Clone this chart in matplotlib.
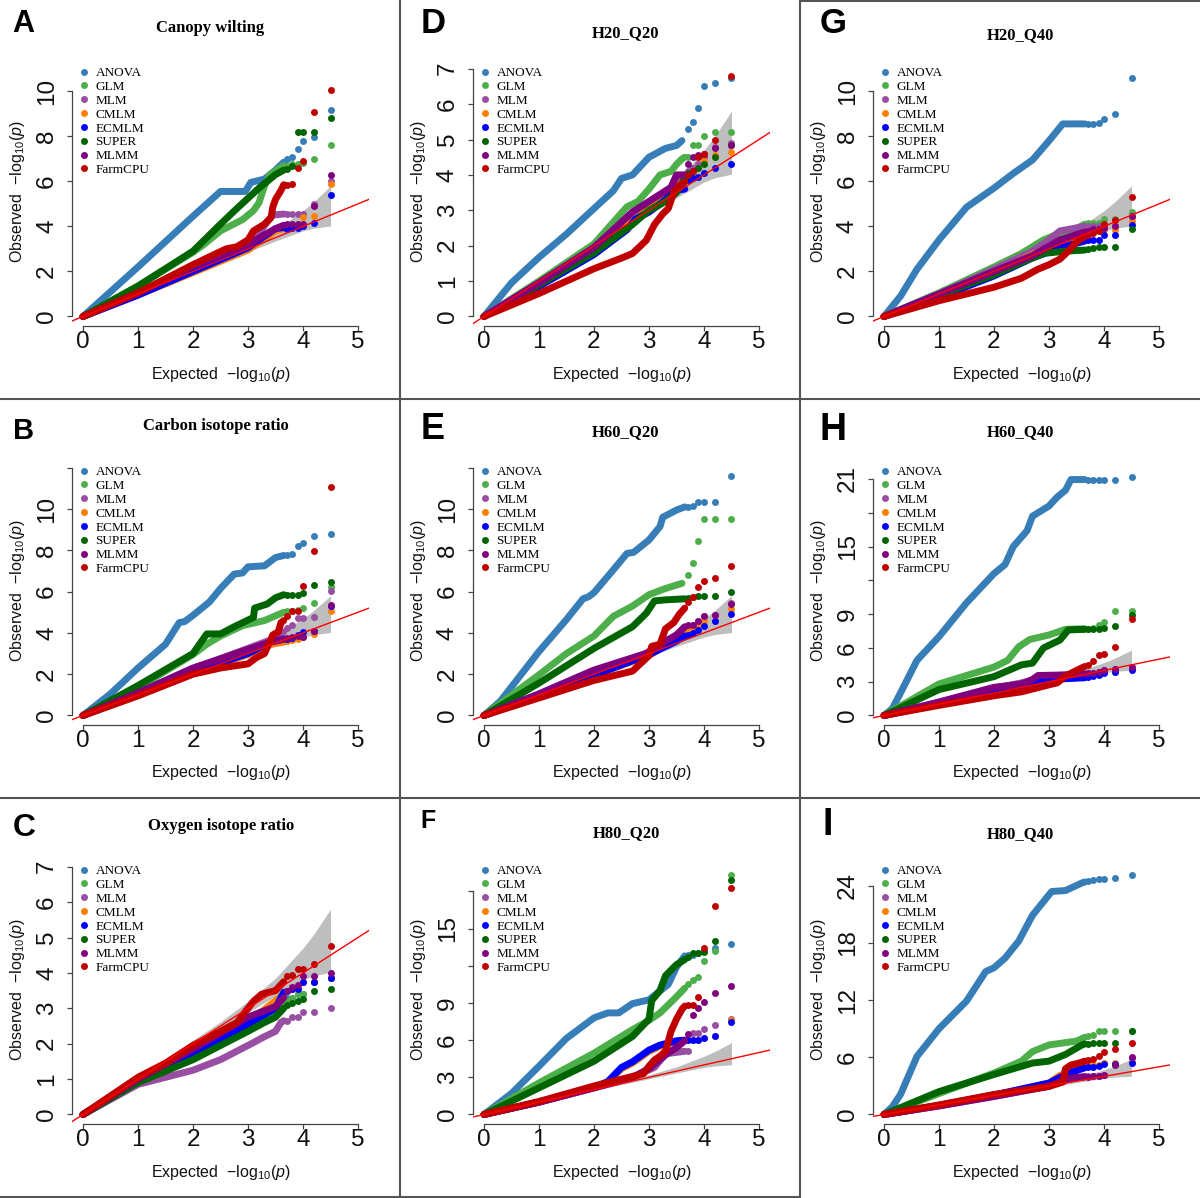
import matplotlib
matplotlib.use("Agg")
import matplotlib.pyplot as plt
from matplotlib.lines import Line2D

plt.rcParams["font.family"] = "Liberation Sans"
plt.rcParams["mathtext.fontset"] = "custom"
plt.rcParams["mathtext.rm"] = "Liberation Sans"
plt.rcParams["mathtext.it"] = "Liberation Sans:italic"

# ── 配置 ──
METHODS = ["ANOVA", "GLM", "MLM", "CMLM", "ECMLM", "SUPER", "MLMM", "FarmCPU"]
COLORS = ["#377EB8", "#4DAF4A", "#984EA3", "#FF7F00", "#0000FF",
          "#006400", "#800080", "#C00000"]

# expected -log10(p) of the last, separated points
TAIL_X = [3.7, 3.8, 3.9, 4.0, 4.2, 4.5]

# grey confidence band
BAND_X = [0.0, 2.0, 2.5, 3.0, 3.5, 4.0, 4.2, 4.5]
BAND_LO = [0.0, 1.92, 2.42, 2.88, 3.35, 3.8, 3.92, 4.02]
BAND_HI = [0.0, 2.1, 2.62, 3.2, 3.85, 4.7, 5.1, 5.8]

LETTERS = ["A", "B", "C", "D", "E", "F", "G", "H", "I"]
TITLES = ["Canopy wilting", "Carbon isotope ratio", "Oxygen isotope ratio",
          "H20_Q20", "H60_Q20", "H80_Q20", "H20_Q40", "H60_Q40", "H80_Q40"]
YMAX = [11, 12, 7, 7, 12, 20, 11, 22, 26]
YTICKS = [[0, 2, 4, 6, 8, 10], [0, 2, 4, 6, 8, 10, 12], [0, 1, 2, 3, 4, 5, 6, 7],
          [0, 1, 2, 3, 4, 5, 6, 7], [0, 2, 4, 6, 8, 10, 12],
          [0, 3, 6, 9, 12, 15, 18], [0, 2, 4, 6, 8, 10],
          [0, 3, 6, 9, 12, 15, 18, 21], [0, 6, 12, 18, 24]]
YLABELS = [["0", "2", "4", "6", "8", "10"], ["0", "2", "4", "6", "8", "10", ""],
           ["0", "1", "2", "3", "4", "5", "6", "7"], ["0", "1", "2", "3", "4", "5", "6", "7"],
           ["0", "2", "4", "6", "8", "10", ""], ["0", "3", "6", "9", "", "15", ""],
           ["0", "2", "4", "6", "8", "10"], ["0", "3", "6", "9", "", "15", "", "21"],
           ["0", "6", "12", "18", "24"]]

# ── 数据: 曲线节点 (x, y) 与尾部散点 y ──
A_CURVE = {
    "ANOVA": ([0, 1, 2, 2.5, 2.95, 3.05, 3.3, 3.5, 3.65], [0, 2.2, 4.45, 5.55, 5.55, 5.95, 6.1, 6.5, 6.85]),
    "GLM": ([0, 1, 2, 2.2, 2.5, 2.9, 3.1, 3.2, 3.3, 3.4, 3.65], [0, 1.35, 2.85, 3.2, 3.8, 4.3, 4.7, 5.05, 5.8, 6.3, 6.7]),
    "MLM": ([0, 1, 2, 2.8, 3.2, 3.35, 3.45, 3.65], [0, 1.05, 2.2, 3.05, 3.7, 4.2, 4.5, 4.55]),
    "CMLM": ([0, 1, 2, 3, 3.5, 3.65], [0, 0.95, 1.95, 2.95, 3.8, 3.9]),
    "ECMLM": ([0, 1, 2, 3, 3.2, 3.5, 3.65], [0, 0.95, 2.0, 3.05, 3.4, 3.9, 3.95]),
    "SUPER": ([0, 1, 2, 2.5, 2.8, 3.0, 3.2, 3.5, 3.65], [0, 1.35, 2.9, 4.1, 4.8, 5.25, 5.7, 6.3, 6.5]),
    "MLMM": ([0, 1, 2, 3, 3.5, 3.65], [0, 1.05, 2.25, 3.2, 3.9, 4.05]),
    "FarmCPU": ([0, 1, 2, 2.6, 2.8, 3.0, 3.1, 3.3, 3.42, 3.45, 3.5, 3.6, 3.65],
                [0, 1.05, 2.3, 3.0, 3.1, 3.4, 3.8, 4.1, 4.4, 4.85, 5.2, 5.6, 5.85]),
}
A_TAIL = {
    "ANOVA": [7.0, 7.1, 7.45, 7.8, 7.97, 9.15], "GLM": [6.7, 6.75, 6.75, 6.8, 7.0, 7.6],
    "MLM": [4.55, 4.55, 4.55, 4.55, 5.0, 6.0], "CMLM": [3.95, 4.0, 4.0, 4.4, 4.45, 5.9],
    "ECMLM": [3.9, 3.95, 3.95, 4.0, 4.15, 5.4], "SUPER": [6.55, 6.7, 8.2, 8.2, 8.2, 8.8],
    "MLMM": [4.1, 4.1, 4.1, 4.1, 4.9, 6.3], "FarmCPU": [5.85, 5.9, 6.6, 6.9, 9.1, 10.05],
}

B_CURVE = {
    "ANOVA": ([0, 0.5, 1, 1.5, 1.75, 1.85, 2.0, 2.3, 2.5, 2.75, 2.9, 3.0, 3.3, 3.5, 3.65],
              [0, 1.05, 2.3, 3.45, 4.5, 4.55, 4.85, 5.5, 6.15, 6.85, 6.9, 7.2, 7.25, 7.65, 7.75]),
    "GLM": ([0, 1, 2, 2.25, 2.5, 2.9, 3.3, 3.65], [0, 1.35, 2.95, 3.45, 3.85, 4.35, 4.6, 5.0]),
    "MLM": ([0, 1, 2, 3, 3.4, 3.65], [0, 1.1, 2.25, 3.25, 3.65, 4.05]),
    "CMLM": ([0, 1, 2, 3, 3.4, 3.65], [0, 1.0, 2.05, 2.95, 3.45, 3.55]),
    "ECMLM": ([0, 1, 2, 3, 3.4, 3.65], [0, 1.0, 2.1, 3.0, 3.55, 3.7]),
    "SUPER": ([0, 1, 2, 2.25, 2.5, 2.75, 3.1, 3.12, 3.35, 3.5, 3.65],
              [0, 1.45, 3.0, 3.95, 3.95, 4.3, 4.75, 5.2, 5.4, 5.7, 5.85]),
    "MLMM": ([0, 1, 2, 3, 3.4, 3.65], [0, 1.1, 2.3, 3.2, 3.55, 3.7]),
    "FarmCPU": ([0, 1, 2, 2.5, 3.0, 3.15, 3.3, 3.4, 3.45, 3.55, 3.6, 3.65],
                [0, 0.95, 2.0, 2.3, 2.5, 2.8, 3.0, 3.6, 3.9, 4.05, 4.5, 4.6]),
}
B_TAIL = {
    "ANOVA": [7.75, 7.8, 8.2, 8.35, 8.7, 8.8], "GLM": [5.05, 5.05, 5.1, 5.2, 5.45, 6.2],
    "MLM": [4.25, 4.4, 4.7, 4.7, 4.75, 6.05], "CMLM": [3.6, 3.65, 3.7, 3.8, 3.95, 5.05],
    "ECMLM": [3.7, 3.75, 3.9, 4.05, 4.1, 5.3], "SUPER": [5.85, 5.85, 5.85, 5.95, 6.3, 6.45],
    "MLMM": [3.75, 3.8, 3.85, 3.8, 4.1, 5.35], "FarmCPU": [4.8, 5.05, 5.05, 6.25, 7.95, 11.05],
}

C_CURVE = {
    "ANOVA": ([0, 1, 2, 2.5, 3, 3.5, 3.65], [0, 0.9, 1.65, 2.05, 2.45, 2.9, 3.2]),
    "GLM": ([0, 1, 2, 3, 3.65], [0, 0.9, 1.6, 2.4, 3.1]),
    "MLM": ([0, 1, 2, 2.5, 3.0, 3.3, 3.5, 3.6, 3.65], [0, 0.85, 1.25, 1.55, 1.95, 2.2, 2.35, 2.6, 2.65]),
    "CMLM": ([0, 1, 2, 3, 3.65], [0, 0.95, 1.75, 2.6, 3.4]),
    "ECMLM": ([0, 1, 2, 2.5, 3, 3.5, 3.65], [0, 0.95, 1.75, 2.15, 2.55, 3.0, 3.45]),
    "SUPER": ([0, 1, 2, 2.5, 3, 3.3, 3.5, 3.65], [0, 0.9, 1.55, 1.95, 2.35, 2.6, 2.75, 3.0]),
    "MLMM": ([0, 1, 2, 2.5, 3, 3.5, 3.65], [0, 1.0, 1.85, 2.3, 2.75, 3.05, 3.3]),
    "FarmCPU": ([0, 1, 1.5, 2, 2.5, 2.8, 3.0, 3.1, 3.25, 3.5, 3.65],
                [0, 1.05, 1.45, 1.95, 2.35, 2.6, 3.0, 3.2, 3.4, 3.5, 3.75]),
}
C_TAIL = {
    "ANOVA": [3.3, 3.3, 3.4, 3.4, 3.75, 3.85], "GLM": [3.2, 3.3, 3.4, 3.4, 3.75, 3.85],
    "MLM": [2.65, 2.75, 2.75, 2.9, 2.9, 3.0], "CMLM": [3.5, 3.55, 3.55, 3.75, 3.75, 3.85],
    "ECMLM": [3.5, 3.55, 3.55, 3.75, 3.75, 3.85], "SUPER": [3.1, 3.15, 3.2, 3.25, 3.5, 3.55],
    "MLMM": [3.5, 3.6, 3.65, 3.9, 3.9, 4.0], "FarmCPU": [3.9, 3.95, 4.1, 4.1, 4.25, 4.75],
}

D_CURVE = {
    "ANOVA": ([0, 0.5, 1, 1.5, 2, 2.35, 2.5, 2.7, 3, 3.3, 3.5, 3.6],
              [0, 0.95, 1.67, 2.33, 3.05, 3.55, 3.9, 4.0, 4.5, 4.75, 4.83, 4.97]),
    "GLM": ([0, 1, 2, 2.6, 2.8, 3.0, 3.2, 3.4, 3.5, 3.6, 3.65], [0, 1.0, 2.05, 3.1, 3.25, 3.6, 4.0, 4.1, 4.3, 4.45, 4.5]),
    "MLM": ([0, 1, 2, 2.7, 3.0, 3.5, 3.65], [0, 0.95, 1.95, 2.95, 3.2, 3.7, 4.0]),
    "CMLM": ([0, 1, 2, 2.7, 3.0, 3.4, 3.65], [0, 0.9, 1.85, 2.8, 3.05, 3.5, 3.85]),
    "ECMLM": ([0, 1, 2, 2.6, 2.75, 3.0, 3.3, 3.45, 3.65], [0, 0.85, 1.75, 2.45, 2.75, 2.95, 3.3, 3.55, 3.6]),
    "SUPER": ([0, 1, 2, 2.7, 3.0, 3.3, 3.5, 3.65], [0, 0.9, 1.8, 2.6, 3.0, 3.25, 3.5, 3.9]),
    "MLMM": ([0, 1, 2, 2.7, 3.1, 3.4, 3.5, 3.65], [0, 0.95, 1.95, 2.95, 3.35, 3.65, 4.0, 4.0]),
    "FarmCPU": ([0, 1, 2, 2.5, 2.7, 2.95, 3.1, 3.25, 3.35, 3.45, 3.55, 3.65],
                [0, 0.65, 1.35, 1.65, 1.78, 2.15, 2.6, 2.9, 3.05, 3.5, 3.7, 3.8]),
}
D_TAIL = {
    "ANOVA": [5.3, 5.5, 5.9, 6.5, 6.6, 6.75], "GLM": [4.5, 4.85, 4.85, 5.1, 5.2, 5.2],
    "MLM": [4.1, 4.2, 4.3, 4.5, 4.8, 4.9], "CMLM": [3.9, 4.0, 4.2, 4.4, 4.55, 4.65],
    "ECMLM": [3.85, 3.9, 3.95, 4.05, 4.2, 4.3], "SUPER": [4.05, 4.1, 4.2, 4.3, 4.5, 4.85],
    "MLMM": [4.3, 4.5, 4.55, 4.6, 4.75, 4.85], "FarmCPU": [4.0, 4.1, 4.5, 4.6, 5.0, 6.8],
}

E_CURVE = {
    "ANOVA": ([0, 0.3, 1, 1.5, 1.8, 1.9, 2.0, 2.35, 2.6, 2.72, 3.0, 3.2, 3.25, 3.5, 3.65],
              [0, 0.7, 3.1, 4.65, 5.65, 5.75, 5.95, 7.05, 7.85, 7.9, 8.5, 9.15, 9.6, 9.95, 10.1]),
    "GLM": ([0, 1, 1.5, 2, 2.35, 2.7, 3.0, 3.3, 3.6], [0, 1.97, 3.0, 3.85, 4.8, 5.3, 5.85, 6.15, 6.4]),
    "MLM": ([0, 1, 2, 2.9, 3.2, 3.5, 3.65], [0, 1.0, 2.1, 2.95, 3.4, 3.9, 4.25]),
    "CMLM": ([0, 1, 2, 3, 3.5, 3.65], [0, 0.95, 1.95, 2.9, 3.7, 4.0]),
    "ECMLM": ([0, 1, 2, 3, 3.5, 3.65], [0, 0.95, 1.95, 2.95, 3.6, 3.85]),
    "SUPER": ([0, 1, 2, 2.7, 2.95, 3.1, 3.3, 3.65], [0, 1.57, 3.25, 4.3, 4.95, 5.55, 5.6, 5.65]),
    "MLMM": ([0, 1, 2, 3, 3.3, 3.5, 3.65], [0, 1.05, 2.2, 3.05, 3.6, 3.9, 4.3]),
    "FarmCPU": ([0, 1, 2, 2.7, 3.0, 3.05, 3.2, 3.3, 3.45, 3.55, 3.65],
                [0, 0.85, 1.7, 2.15, 2.9, 3.35, 3.45, 4.2, 4.5, 4.9, 5.2]),
}
E_TAIL = {
    "ANOVA": [10.1, 10.15, 10.35, 10.35, 10.35, 11.6], "GLM": [6.8, 7.4, 8.45, 9.5, 9.5, 9.5],
    "MLM": [4.35, 4.4, 4.6, 4.8, 4.85, 5.45], "CMLM": [4.1, 4.3, 4.4, 4.6, 4.6, 5.15],
    "ECMLM": [3.9, 4.0, 4.15, 4.35, 4.6, 4.9], "SUPER": [5.7, 5.75, 5.8, 5.8, 5.8, 6.0],
    "MLMM": [4.4, 4.4, 4.6, 4.8, 4.85, 5.4], "FarmCPU": [5.5, 5.75, 6.2, 6.5, 6.65, 7.25],
}

F_CURVE = {
    "ANOVA": ([0, 0.5, 1, 1.5, 2, 2.25, 2.45, 2.7, 3.0, 3.15, 3.35, 3.5, 3.65],
              [0, 1.7, 3.9, 6.15, 7.8, 8.2, 8.2, 8.95, 9.25, 9.8, 10.5, 11.9, 12.8]),
    "GLM": ([0, 1, 2, 2.7, 3.0, 3.2, 3.5, 3.65], [0, 2.55, 4.95, 6.85, 7.6, 8.2, 9.5, 10.2]),
    "MLM": ([0, 1, 2, 2.7, 3.0, 3.1, 3.3, 3.65], [0, 1.0, 2.15, 2.95, 3.6, 3.8, 4.9, 5.1]),
    "CMLM": ([0, 1, 2, 2.25, 2.5, 2.7, 3.0, 3.2, 3.5, 3.65], [0, 1.0, 2.15, 2.6, 3.7, 4.15, 5.1, 5.5, 5.9, 5.95]),
    "ECMLM": ([0, 1, 2, 2.25, 2.5, 2.7, 3.0, 3.2, 3.5, 3.65], [0, 1.0, 2.2, 2.65, 3.8, 4.25, 5.2, 5.6, 5.95, 6.0]),
    "SUPER": ([0, 1, 2, 2.7, 3.0, 3.05, 3.2, 3.3, 3.5, 3.65], [0, 2.15, 4.3, 6.3, 7.7, 9.2, 10.0, 11.2, 12.1, 12.5]),
    "MLMM": ([0, 1, 2, 2.7, 3.0, 3.3, 3.5, 3.65], [0, 1.0, 2.15, 3.0, 3.7, 4.8, 5.4, 5.95]),
    "FarmCPU": ([0, 1, 2, 2.5, 2.9, 3.0, 3.1, 3.2, 3.3, 3.4, 3.5, 3.6, 3.65],
                [0, 1.05, 2.3, 2.85, 3.3, 3.9, 4.4, 4.7, 5.1, 6.7, 7.7, 8.5, 8.75]),
}
F_TAIL = {
    "ANOVA": [12.9, 12.9, 13.0, 13.25, 13.4, 13.8], "GLM": [10.5, 10.85, 11.1, 12.4, 13.2, 19.3],
    "MLM": [5.1, 6.55, 6.6, 6.9, 7.2, 7.7], "CMLM": [6.0, 6.05, 6.05, 6.15, 6.3, 7.6],
    "ECMLM": [6.0, 6.05, 6.05, 6.15, 6.3, 7.5], "SUPER": [12.7, 13.0, 13.0, 13.1, 14.0, 18.95],
    "MLMM": [6.5, 8.0, 8.6, 9.1, 9.8, 10.4], "FarmCPU": [8.8, 8.8, 9.45, 13.45, 16.8, 18.3],
}

G_CURVE = {
    "ANOVA": ([0, 0.3, 0.6, 1, 1.5, 2, 2.35, 2.7, 3.0, 3.2, 3.25, 3.65],
              [0, 0.9, 2.1, 3.4, 4.85, 5.7, 6.35, 6.95, 7.8, 8.4, 8.55, 8.55]),
    "GLM": ([0, 1, 2, 2.5, 2.9, 3.2, 3.5, 3.65], [0, 1.05, 2.2, 2.8, 3.4, 3.7, 3.9, 4.1]),
    "MLM": ([0, 1, 2, 2.7, 3.0, 3.2, 3.65], [0, 1.0, 2.1, 2.9, 3.4, 3.8, 4.0]),
    "CMLM": ([0, 1, 2, 2.7, 3.2, 3.65], [0, 0.9, 1.9, 2.75, 3.2, 3.6]),
    "ECMLM": ([0, 1, 2, 2.7, 3.2, 3.65], [0, 0.85, 1.8, 2.6, 3.05, 3.35]),
    "SUPER": ([0, 1, 2, 2.5, 2.9, 3.3, 3.65], [0, 0.95, 1.85, 2.4, 2.8, 2.9, 2.95]),
    "MLMM": ([0, 1, 2, 2.7, 3.2, 3.65], [0, 1.0, 2.0, 2.7, 3.4, 3.75]),
    "FarmCPU": ([0, 1, 2, 2.5, 2.8, 3.0, 3.2, 3.35, 3.5, 3.65],
                [0, 0.7, 1.3, 1.7, 2.1, 2.3, 2.55, 2.9, 3.3, 3.55]),
}
G_TAIL = {
    "ANOVA": [8.55, 8.55, 8.6, 8.75, 9.0, 10.6], "GLM": [4.15, 4.15, 4.15, 4.35, 4.35, 4.65],
    "MLM": [4.0, 4.0, 4.0, 4.0, 4.0, 4.4], "CMLM": [3.7, 3.75, 3.8, 3.85, 3.85, 4.25],
    "ECMLM": [3.4, 3.4, 3.4, 3.6, 3.6, 4.05], "SUPER": [3.0, 3.05, 3.1, 3.1, 3.1, 3.9],
    "MLMM": [3.8, 3.9, 3.9, 3.95, 4.0, 4.45], "FarmCPU": [3.6, 3.7, 3.8, 4.1, 4.3, 5.3],
}

H_CURVE = {
    "ANOVA": ([0, 0.15, 0.3, 0.6, 1, 1.5, 2, 2.2, 2.35, 2.6, 2.7, 3.0, 3.15, 3.3, 3.4, 3.65],
              [0, 0.6, 2.0, 4.9, 7.0, 10.0, 12.6, 13.4, 15.0, 16.4, 17.7, 18.6, 19.4, 20.0, 20.95, 20.95]),
    "GLM": ([0, 1, 2, 2.25, 2.45, 2.65, 3.0, 3.3, 3.65], [0, 2.8, 4.3, 4.9, 6.1, 6.75, 7.15, 7.65, 7.7]),
    "MLM": ([0, 1, 2, 2.7, 2.85, 3.65], [0, 1.15, 2.4, 3.1, 3.5, 3.65]),
    "CMLM": ([0, 1, 2, 2.7, 3.0, 3.65], [0, 1.0, 2.1, 2.9, 3.1, 3.5]),
    "ECMLM": ([0, 1, 2, 2.7, 3.0, 3.65], [0, 1.0, 2.1, 2.85, 3.2, 3.35]),
    "SUPER": ([0, 1, 2, 2.5, 2.7, 2.9, 3.2, 3.35, 3.65], [0, 2.3, 3.45, 4.5, 4.65, 6.0, 6.7, 7.6, 7.65]),
    "MLMM": ([0, 1, 2, 2.5, 2.7, 2.8, 3.3, 3.65], [0, 1.2, 2.5, 2.8, 3.2, 3.55, 3.6, 3.7]),
    "FarmCPU": ([0, 1, 2, 2.5, 2.9, 3.15, 3.3, 3.5, 3.65], [0, 0.9, 1.75, 2.1, 2.6, 2.9, 3.5, 4.0, 4.35]),
}
H_TAIL = {
    "ANOVA": [20.95, 20.95, 20.95, 20.95, 20.95, 21.2], "GLM": [7.7, 7.75, 8.0, 8.3, 9.25, 9.3],
    "MLM": [3.75, 3.8, 3.85, 4.0, 4.1, 4.25], "CMLM": [3.6, 3.7, 3.8, 3.85, 3.9, 4.1],
    "ECMLM": [3.4, 3.5, 3.6, 3.75, 3.85, 4.0], "SUPER": [7.65, 7.65, 7.7, 7.8, 7.95, 8.95],
    "MLMM": [3.8, 3.8, 3.85, 4.0, 4.1, 4.3], "FarmCPU": [4.5, 4.85, 5.4, 5.45, 6.05, 8.55],
}

I_CURVE = {
    "ANOVA": ([0, 0.15, 0.3, 0.6, 1, 1.5, 1.85, 2.0, 2.2, 2.45, 2.7, 2.95, 3.05, 3.3, 3.6, 3.65],
              [0, 0.8, 2.1, 6.1, 9.0, 11.9, 15.0, 15.4, 16.4, 18.2, 20.9, 22.7, 23.4, 23.5, 24.3, 24.4]),
    "GLM": ([0, 1, 2, 2.5, 2.7, 3.0, 3.5, 3.65], [0, 2.2, 4.35, 5.6, 6.6, 7.3, 7.7, 8.1]),
    "MLM": ([0, 1, 2, 3, 3.3, 3.65], [0, 0.9, 1.9, 3.0, 3.6, 4.0]),
    "CMLM": ([0, 1, 2, 3, 3.2, 3.65], [0, 0.95, 2.0, 3.3, 4.1, 5.0]),
    "ECMLM": ([0, 1, 2, 3, 3.2, 3.4, 3.65], [0, 0.95, 2.05, 3.3, 3.9, 4.4, 4.9]),
    "SUPER": ([0, 1, 2, 2.7, 3.0, 3.3, 3.6, 3.65], [0, 2.4, 4.2, 5.4, 5.6, 6.3, 7.3, 7.4]),
    "MLMM": ([0, 1, 2, 3, 3.35, 3.65], [0, 0.9, 1.9, 2.95, 3.8, 3.95]),
    "FarmCPU": ([0, 1, 2, 3, 3.25, 3.3, 3.4, 3.55, 3.65], [0, 1.0, 2.1, 2.95, 3.4, 4.8, 5.2, 5.4, 5.6]),
}
I_TAIL = {
    "ANOVA": [24.5, 24.6, 24.7, 24.7, 24.8, 25.1], "GLM": [8.2, 8.35, 8.8, 8.8, 8.8, 8.8],
    "MLM": [4.0, 4.0, 4.05, 4.1, 5.25, 5.9], "CMLM": [5.1, 5.15, 5.2, 5.4, 5.45, 5.55],
    "ECMLM": [4.95, 5.0, 5.1, 5.35, 5.35, 5.4], "SUPER": [7.4, 7.45, 7.45, 7.45, 7.45, 8.75],
    "MLMM": [3.95, 4.0, 4.0, 4.1, 5.2, 6.0], "FarmCPU": [5.7, 5.8, 6.1, 6.6, 6.9, 7.5],
}

CURVES = [A_CURVE, B_CURVE, C_CURVE, D_CURVE, E_CURVE, F_CURVE, G_CURVE, H_CURVE, I_CURVE]
TAILS = [A_TAIL, B_TAIL, C_TAIL, D_TAIL, E_TAIL, F_TAIL, G_TAIL, H_TAIL, I_TAIL]

# ── 布局 (像素) ──
W, H = 1200, 1198
COL_X = [0, 401, 801]
ROW_Y = [0, 399, 798]
REG_L, REG_R, REG_T, REG_B = 72, 369, 58.8, 326.4
TITLE_POS = [(210, 28), (216, 27), (221, 28), (225, 33), (225, 33), (225, 35),
             (219, 35), (219, 33), (219, 36.5)]
LETTER_POS = [(12, 32, 22), (13, 439, 21), (13, 836, 23), (421, 33, 25), (421, 439, 26),
              (420, 828, 18), (820, 33, 25), (820, 440, 27), (822, 835, 27)]

LW = 5.0      # dense part of each QQ curve
MS = 5.0      # separated tail points

fig = plt.figure(figsize=(W / 100, H / 100), dpi=100)


def fx(px):
    return px / W


def fy(py):
    return 1 - py / H


def draw_panel(i):
    col, row = i // 3, i % 3
    ox, oy = COL_X[col], ROW_Y[row]
    ax = fig.add_axes([fx(ox + REG_L), fy(oy + REG_B),
                       (REG_R - REG_L) / W, (REG_B - REG_T) / H])
    ymax = YMAX[i]
    ax.set_xlim(-0.2, 5.2)
    ax.set_ylim(-0.04 * ymax, 1.04 * ymax)

    ax.fill_between(BAND_X, BAND_LO, BAND_HI, color="#BEBEBE", lw=0, zorder=1)
    for m, color in zip(METHODS, COLORS):
        xs, ys = CURVES[i][m]
        ax.plot(xs, ys, color=color, lw=LW, solid_capstyle="round",
                solid_joinstyle="round", zorder=2)
        ax.plot(TAIL_X, TAILS[i][m], "o", color=color, ms=MS, mew=0, zorder=2)
    ax.axline((0, 0), slope=1, color="#FF0000", lw=1.0, zorder=3)

    for s in ("top", "right"):
        ax.spines[s].set_visible(False)
    for s in ("left", "bottom"):
        ax.spines[s].set_color("#444444")
        ax.spines[s].set_linewidth(0.9)
    ax.spines["bottom"].set_bounds(0, 5)
    ax.spines["left"].set_bounds(0, YTICKS[i][-1])
    ax.set_xticks([0, 1, 2, 3, 4, 5])
    ax.set_yticks(YTICKS[i], YLABELS[i])
    ax.tick_params(axis="both", length=3.6, width=0.9, color="#444444",
                   labelsize=17.5, labelcolor="#111111")
    ax.tick_params(axis="x", pad=-0.5)
    ax.tick_params(axis="y", pad=14.4)
    for lab in ax.get_yticklabels():
        lab.set_rotation(90)
        lab.set_ha("center")
        lab.set_va("center")

    fig.text(fx(ox + 221), fy(oy + 374), r"Expected  $-\mathrm{log}_{10}(\mathit{p})$",
             ha="center", va="center", fontsize=11.5, color="#111111")
    fig.text(fx(ox + 18), fy(oy + 192), r"Observed  $-\mathrm{log}_{10}(\mathit{p})$",
             ha="center", va="center", rotation=90, fontsize=11.5, color="#111111")

    tx, ty = TITLE_POS[i]
    fig.text(fx(ox + tx), fy(oy + ty), TITLES[i], ha="center", va="center",
             fontsize=12, fontweight="bold", family="Liberation Serif")
    lx, ly, lsz = LETTER_POS[i]
    fig.text(fx(lx), fy(ly), LETTERS[i], ha="left", va="baseline",
             fontsize=lsz * 1.0, fontweight="bold", color="black")

    handles = [Line2D([], [], ls="none", marker="o", ms=MS, mew=0, color=c) for c in COLORS]
    ax.legend(handles, METHODS, loc="upper left",
              bbox_to_anchor=(fx(ox + 79), fy(oy + 67)), bbox_transform=fig.transFigure,
              frameon=False, borderpad=0, borderaxespad=0, handlelength=0.8,
              handletextpad=0.45, labelspacing=0.12,
              prop={"family": "Liberation Serif", "size": 9.5})


for i in range(9):
    draw_panel(i)

# 面板分隔线
sep = dict(color="#555555", lw=1.5, transform=fig.transFigure)
fig.add_artist(Line2D([fx(400), fx(400)], [0, 1], **sep))
fig.add_artist(Line2D([fx(800), fx(800)], [0, 1], **sep))
fig.add_artist(Line2D([0, 1], [fy(398.5), fy(398.5)], **sep))
fig.add_artist(Line2D([0, 1], [fy(797.5), fy(797.5)], **sep))
fig.add_artist(Line2D([0, fx(800)], [fy(1196.5), fy(1196.5)], **sep))
fig.add_artist(Line2D([fx(800), 1], [fy(0.7), fy(0.7)], **sep))

fig.savefig("out.png", dpi=100)
